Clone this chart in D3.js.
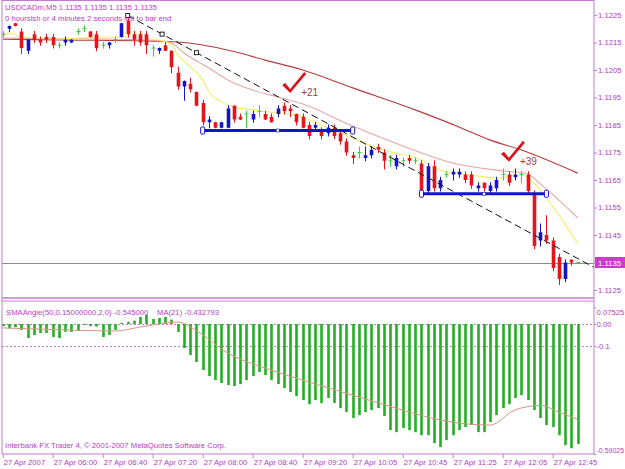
<!DOCTYPE html>
<html>
<head>
<meta charset="utf-8">
<script src="https://cdn.jsdelivr.net/npm/d3@7"></script>
<style>
body { margin: 0; background: #fff; }
svg { display: block; font-family: "Liberation Sans", Arial, sans-serif; }
</style>
</head>
<body>
<svg id="chart" width="625" height="469"></svg>
<script>
// ---- data (USDCADm, M5, 27 Apr 2007) ----
const symbolTitle = "USDCADm,M5  1.1135 1.1135 1.1135 1.1135";
const timerText = "0 hoursish or 4 minutes 2 seconds left to bar end";

const opens = [1.1218,1.1220,1.1222,1.1219,1.1212,1.1218,1.1216,1.1217,1.1217,1.1214,
  1.1215,1.1215,1.1219,1.1220,1.1219,1.1218,1.1214,1.1214,1.1216,1.1217,
  1.1223,1.1218,1.1218,1.1218,1.1213,1.1212,1.1214,1.1212,1.1204,1.1199,
  1.1200,1.1197,1.1193,1.1186,1.1186,1.1184,1.1184,1.1192,1.1188,1.1189,
  1.1187,1.1190,1.1189,1.1188,1.1189,1.1192,1.1191,1.1189,1.1188,1.1185,
  1.1184,1.1183,1.1182,1.1184,1.1182,1.1179,1.1174,1.1175,1.1173,1.1174,
  1.1177,1.1175,1.1172,1.1170,1.1172,1.1173,1.1172,1.1171,1.1161,1.1170,
  1.1162,1.1167,1.1167,1.1167,1.1167,1.1167,1.1162,1.1164,1.1161,1.1162,
  1.1167,1.1167,1.1166,1.1167,1.1167,1.1160,1.1143,1.1145,1.1143,1.1137,
  1.1129,1.1136,1.1135];
const highs = [1.1219,1.1221,1.1222,1.1220,1.1216,1.1219,1.1217,1.1218,1.1218,1.1215,
  1.1217,1.1216,1.1220,1.1221,1.1219,1.1219,1.1215,1.1215,1.1217,1.1222,
  1.1224,1.1219,1.1219,1.1219,1.1214,1.1213,1.1215,1.1212,1.1206,1.1201,
  1.1202,1.1197,1.1194,1.1188,1.1186,1.1186,1.1192,1.1192,1.1189,1.1190,
  1.1190,1.1192,1.1190,1.1189,1.1192,1.1193,1.1192,1.1189,1.1189,1.1186,
  1.1186,1.1184,1.1185,1.1185,1.1183,1.1180,1.1175,1.1177,1.1177,1.1177,
  1.1178,1.1176,1.1174,1.1174,1.1173,1.1174,1.1173,1.1172,1.1171,1.1172,
  1.1166,1.1168,1.1169,1.1169,1.1168,1.1168,1.1164,1.1164,1.1164,1.1166,
  1.1169,1.1168,1.1169,1.1168,1.1168,1.1161,1.1149,1.1152,1.1144,1.1138,
  1.1136,1.1136,1.1135];
const lows = [1.1217,1.1219,1.1221,1.1211,1.1211,1.1215,1.1214,1.1215,1.1213,1.1213,
  1.1214,1.1215,1.1218,1.1219,1.1217,1.1212,1.1213,1.1213,1.1215,1.1217,
  1.1217,1.1214,1.1214,1.1211,1.1210,1.1211,1.1212,1.1204,1.1198,1.1194,
  1.1197,1.1192,1.1185,1.1184,1.1184,1.1184,1.1184,1.1186,1.1187,1.1184,
  1.1186,1.1188,1.1187,1.1186,1.1188,1.1189,1.1188,1.1185,1.1184,1.1180,
  1.1183,1.1180,1.1181,1.1180,1.1178,1.1174,1.1171,1.1173,1.1172,1.1173,
  1.1175,1.1169,1.1170,1.1169,1.1170,1.1171,1.1171,1.1160,1.1160,1.1161,
  1.1161,1.1166,1.1165,1.1166,1.1164,1.1162,1.1161,1.1161,1.1160,1.1161,
  1.1165,1.1163,1.1165,1.1164,1.1160,1.1140,1.1141,1.1142,1.1132,1.1127,
  1.1128,1.1134,1.1135];
const closes = [1.1218,1.1221,1.1221,1.1213,1.1216,1.1216,1.1215,1.1216,1.1214,1.1214,
  1.1216,1.1216,1.1219,1.1220,1.1217,1.1213,1.1214,1.1215,1.1216,1.1222,
  1.1218,1.1216,1.1215,1.1214,1.1213,1.1213,1.1212,1.1206,1.1199,1.1201,
  1.1198,1.1192,1.1186,1.1187,1.1184,1.1186,1.1191,1.1187,1.1187,1.1189,
  1.1189,1.1190,1.1187,1.1186,1.1191,1.1190,1.1190,1.1186,1.1184,1.1181,
  1.1185,1.1181,1.1184,1.1181,1.1179,1.1175,1.1173,1.1175,1.1174,1.1176,
  1.1176,1.1172,1.1172,1.1173,1.1172,1.1172,1.1172,1.1161,1.1170,1.1162,
  1.1165,1.1167,1.1168,1.1168,1.1165,1.1163,1.1163,1.1162,1.1163,1.1165,
  1.1167,1.1164,1.1167,1.1167,1.1161,1.1141,1.1146,1.1143,1.1133,1.1129,
  1.1135,1.1135,1.1135];
const bidPrice = 1.1135;

// moving averages on the price chart, read as [bar, price]
const maFast = [[0,1.12177],[1,1.12185],[3,1.12171],[8,1.12163],[12,1.12166],[16,1.12170],
  [21,1.12170],[25,1.12159],[27,1.12141],[28,1.12105],[30,1.12062],[32,1.12014],[33,1.11971],
  [35,1.11935],[37,1.11914],[40,1.11905],[42,1.11898],[45,1.11893],[48,1.11880],[51,1.11850],
  [54,1.11821],[58,1.11783],[62,1.11753],[67,1.11723],[70,1.11686],[75,1.11668],[79,1.11657],
  [83,1.11668],[85,1.11639],[88,1.11553],[92,1.11420]];
const maMid = [[0,1.12166],[16,1.12163],[25,1.12157],[27,1.12148],[29,1.12112],[33,1.12057],
  [36,1.12014],[40,1.11977],[44,1.11952],[48,1.11926],[56,1.11846],[64,1.11774],[72,1.11712],
  [80,1.11683],[84,1.11672],[86,1.11636],[89,1.11577],[92,1.11512]];
const maSlow = [[0,1.12162],[10,1.12159],[24,1.12155],[28,1.12152],[32,1.12141],[37,1.12117],
  [42,1.12086],[48,1.12050],[56,1.11985],[66,1.11905],[73,1.11843],[78,1.11795],[83,1.11759],
  [92,1.11675]];

// objects on the chart
const trendPoints = [[20,1.12248],[31,1.12113]];
const levelLines = [[32,56,1.1183],[67,87,1.1160]];
const checkMarks = [[46,1.1197,"+21"],[81,1.1172,"+39"]];

// SMAAngle histogram, one value per bar, and its MA(21)
const angleValues = [-0.010,-0.020,-0.015,-0.027,-0.064,-0.050,-0.041,-0.041,-0.059,-0.064,
  -0.036,-0.036,-0.032,-0.005,-0.010,-0.012,-0.059,-0.050,-0.027,0.005,
  0.010,0.015,0.032,0.041,0.023,0.027,0.032,0.020,-0.036,-0.109,
  -0.141,-0.173,-0.209,-0.236,-0.255,-0.268,-0.277,-0.282,-0.273,-0.255,
  -0.236,-0.218,-0.232,-0.255,-0.273,-0.291,-0.309,-0.327,-0.345,-0.364,
  -0.345,-0.359,-0.336,-0.359,-0.382,-0.400,-0.427,-0.414,-0.400,-0.391,
  -0.382,-0.418,-0.482,-0.491,-0.473,-0.482,-0.491,-0.505,-0.505,-0.541,
  -0.559,-0.527,-0.505,-0.482,-0.468,-0.459,-0.491,-0.491,-0.445,-0.414,
  -0.382,-0.364,-0.336,-0.323,-0.345,-0.391,-0.427,-0.459,-0.468,-0.505,
  -0.550,-0.564,-0.545];
const angleMA = [[0,-0.018],[10,-0.027],[18,-0.032],[22,-0.014],[28,0.009],[31,-0.030],
  [36,-0.132],[42,-0.200],[48,-0.255],[56,-0.323],[64,-0.391],[70,-0.436],[78,-0.459],
  [82,-0.390],[86,-0.370],[89,-0.400],[92,-0.433]];

const priceTicks = [1.1125,1.1135,1.1145,1.1155,1.1165,1.1175,1.1185,1.1195,1.1205,1.1215,1.1225];
const angleTicks = [0.07525, 0, -0.1, -0.59025];
const angleTickText = ["0.07525", "0.00", "-0.1", "-0.59025"];
const timeTickBars = [0, 8, 16, 24, 32, 40, 48, 56, 64, 72, 80, 88];
const timeTickText = ["27 Apr 2007","27 Apr 06:00","27 Apr 06:40","27 Apr 07:20","27 Apr 08:00",
  "27 Apr 08:40","27 Apr 09:20","27 Apr 10:05","27 Apr 10:45","27 Apr 11:25","27 Apr 12:05","27 Apr 12:45"];

// ---- layout ----
const paneL = 2, paneR = 594;
const mainT = 0.5, mainB = 298, indT = 301, indB = 454;
const fg = "#b93cbf", frame = "#c47ad0";
const bullColor = "#1414c8", bearColor = "#e8141c", dojiColor = "#3ccc3c";
const fontSize = "7.7px";

var svg = d3.select("#chart");
svg.append("rect").attr("width", 625).attr("height", 469).attr("fill", "#fff");

var defs = svg.append("defs");
defs.append("clipPath").attr("id", "clipMain").append("rect")
  .attr("x", paneL).attr("y", mainT).attr("width", paneR - paneL).attr("height", mainB - mainT);
defs.append("clipPath").attr("id", "clipInd").append("rect")
  .attr("x", paneL).attr("y", indT).attr("width", paneR - paneL).attr("height", indB - indT);

var x = d3.scaleLinear().domain([0, 92]).range([2.7, 577.7]);
var y = d3.scaleLinear().domain([1.1125, 1.1225]).range([290, 15]);
var yi = d3.scaleLinear().domain([-0.59025, 0.07525]).range([454, 307.4]);

var bars = opens.map(function (o, i) {
  return { i: i, o: o, h: highs[i], l: lows[i], c: closes[i] };
});
function barColor(d) {
  if (d.c > d.o) return bullColor;
  if (d.c < d.o) return bearColor;
  return dojiColor;
}

// ---- main pane ----
var main = svg.append("g").attr("clip-path", "url(#clipMain)");

// bid line
main.append("line")
  .attr("x1", paneL).attr("x2", paneR)
  .attr("y1", Math.round(y(bidPrice)) + 0.5).attr("y2", Math.round(y(bidPrice)) + 0.5)
  .attr("stroke", "#8c8c8c").attr("stroke-width", 1);

var maLine = d3.line().x(d => x(d[0])).y(d => y(d[1])).curve(d3.curveMonotoneX);
[[maSlow, "#b83a3a"], [maMid, "#e6a6a6"], [maFast, "#f2ee6a"]].forEach(function (m) {
  main.append("path").datum(m[0]).attr("d", maLine)
    .attr("fill", "none").attr("stroke", m[1]).attr("stroke-width", 1.1);
});

var candle = main.selectAll(".bar").data(bars).join("g").attr("class", "bar");
candle.append("line")
  .attr("x1", d => Math.round(x(d.i)) + 0.5).attr("x2", d => Math.round(x(d.i)) + 0.5)
  .attr("y1", d => y(d.h) - 0.5).attr("y2", d => y(d.l) + 0.5)
  .attr("stroke", barColor).attr("stroke-width", 1);
candle.filter(d => d.o !== d.c).append("rect")
  .attr("x", d => Math.round(x(d.i)) - 1.3)
  .attr("width", 3.6)
  .attr("y", d => y(Math.max(d.o, d.c)))
  .attr("height", d => Math.max(1.5, Math.abs(y(d.o) - y(d.c))))
  .attr("fill", barColor);
candle.filter(d => d.o === d.c).append("line")
  .attr("x1", d => Math.round(x(d.i)) - 1.5).attr("x2", d => Math.round(x(d.i)) + 2.5)
  .attr("y1", d => y(d.o)).attr("y2", d => y(d.o))
  .attr("stroke", dojiColor).attr("stroke-width", 1.2);

// dashed trend line (ray) with its three markers
var tSlope = (trendPoints[1][1] - trendPoints[0][1]) / (trendPoints[1][0] - trendPoints[0][0]);
var tEnd = x.invert(paneR);
main.append("line")
  .attr("x1", x(trendPoints[0][0])).attr("y1", y(trendPoints[0][1]))
  .attr("x2", x(tEnd)).attr("y2", y(trendPoints[0][1] + tSlope * (tEnd - trendPoints[0][0])))
  .attr("stroke", "#111").attr("stroke-width", 1).attr("stroke-dasharray", "7,4");
var tMid = [(trendPoints[0][0] + trendPoints[1][0]) / 2, (trendPoints[0][1] + trendPoints[1][1]) / 2];
main.selectAll(".tmark").data([trendPoints[0], tMid, trendPoints[1]]).join("rect")
  .attr("class", "tmark")
  .attr("x", d => x(d[0]) - 2).attr("y", d => y(d[1]) - 2)
  .attr("width", 4).attr("height", 4)
  .attr("fill", "#fff").attr("stroke", "#111").attr("stroke-width", 0.9);

// thick blue horizontal lines
levelLines.forEach(function (ln) {
  var yy = y(ln[2]);
  main.append("line").attr("x1", x(ln[0])).attr("x2", x(ln[1]))
    .attr("y1", yy).attr("y2", yy)
    .attr("stroke", bullColor).attr("stroke-width", 3);
  [ln[0], ln[1]].forEach(function (b) {
    main.append("rect").attr("x", x(b) - 2).attr("y", yy - 3.5).attr("width", 4).attr("height", 7)
      .attr("rx", 1).attr("fill", "#fff").attr("stroke", bullColor).attr("stroke-width", 1);
  });
  main.append("rect").attr("x", x((ln[0] + ln[1]) / 2) - 1.5).attr("y", yy - 1.5)
    .attr("width", 3).attr("height", 3).attr("fill", "#fff").attr("stroke", bullColor).attr("stroke-width", 0.6);
});

// red check marks with pip counts
checkMarks.forEach(function (cm) {
  var cx = x(cm[0]), cy = y(cm[1]);
  main.append("path")
    .attr("d", "M-8,-7 L-5,-9 L0,-3 L14,-20 L16,-18 L0,1 Z")
    .attr("transform", "translate(" + cx + "," + cy + ")")
    .attr("fill", "#d8141c");
  main.append("text").attr("x", cx + 11).attr("y", cy + 4)
    .attr("font-size", "10px").attr("fill", "#9c3c3c").text(cm[2]);
});

// ---- indicator pane ----
var ind = svg.append("g").attr("clip-path", "url(#clipInd)");
[0, -0.1].forEach(function (lv) {
  ind.append("line").attr("x1", paneL).attr("x2", paneR)
    .attr("y1", Math.round(yi(lv)) + 0.5).attr("y2", Math.round(yi(lv)) + 0.5)
    .attr("stroke", frame).attr("stroke-width", 1).attr("stroke-dasharray", "2,2");
});
ind.selectAll(".hist").data(angleValues).join("line")
  .attr("class", "hist")
  .attr("x1", (d, i) => Math.round(x(i)) + 0.5).attr("x2", (d, i) => Math.round(x(i)) + 0.5)
  .attr("y1", yi(0)).attr("y2", d => yi(d))
  .attr("stroke", "#22b022").attr("stroke-width", 2.6);
ind.append("path").datum(angleMA)
  .attr("d", d3.line().x(d => x(d[0])).y(d => yi(d[1])).curve(d3.curveMonotoneX))
  .attr("fill", "none").attr("stroke", "#d49484").attr("stroke-width", 1);

// ---- frame ----
var fr = svg.append("g").attr("stroke", frame).attr("fill", "none");
fr.append("line").attr("x1", paneL).attr("x2", paneL).attr("y1", 0).attr("y2", indB);
fr.append("line").attr("x1", paneR).attr("x2", paneR).attr("y1", 0).attr("y2", indB);
fr.append("line").attr("x1", paneL).attr("x2", paneR).attr("y1", mainT).attr("y2", mainT);
fr.append("line").attr("x1", paneL).attr("x2", paneR).attr("y1", mainB).attr("y2", mainB).attr("stroke-width", 1.6);
fr.append("line").attr("x1", paneL).attr("x2", paneR).attr("y1", indT).attr("y2", indT);
fr.append("line").attr("x1", paneL).attr("x2", paneR).attr("y1", indB).attr("y2", indB);

// ---- axes ----
function styleAxis(g) {
  g.select(".domain").remove();
  g.selectAll(".tick line").attr("stroke", frame);
  g.selectAll(".tick text").attr("fill", fg).attr("font-size", fontSize)
    .attr("font-family", "Liberation Sans, Arial, sans-serif");
}

svg.append("g").attr("transform", "translate(" + paneR + ",0)")
  .call(d3.axisRight(y).tickValues(priceTicks).tickSize(3).tickPadding(1).tickFormat(d3.format(".4f")))
  .call(styleAxis);

// current price label
svg.append("rect").attr("x", paneR + 1).attr("y", y(bidPrice) - 5.5)
  .attr("width", 31).attr("height", 11).attr("fill", "#cc3ccc");
svg.append("text").attr("x", paneR + 4).attr("y", y(bidPrice) + 3)
  .attr("font-size", fontSize).attr("fill", "#fff").text(d3.format(".4f")(bidPrice));

var indAxis = svg.append("g").attr("transform", "translate(" + paneR + ",0)")
  .call(d3.axisRight(yi).tickValues(angleTicks).tickSize(2).tickPadding(0.5)
    .tickFormat((d, k) => angleTickText[k]))
  .call(styleAxis);
indAxis.selectAll(".tick text")
  .attr("dy", (d, k) => k === 0 ? "0.9em" : (k === 3 ? "-0.25em" : "0.32em"))
  .attr("font-size", (d, k) => k === 3 ? "7px" : fontSize);

var tAxis = svg.append("g").attr("transform", "translate(0," + indB + ")")
  .call(d3.axisBottom(x).tickValues(timeTickBars).tickSize(4).tickPadding(2)
    .tickFormat((d, k) => timeTickText[k]))
  .call(styleAxis);
tAxis.selectAll(".tick text").attr("text-anchor", "start").attr("x", 0.5);

// ---- captions ----
var cap = svg.append("g").attr("fill", fg).attr("font-size", fontSize);
cap.append("text").attr("x", 5).attr("y", 10).text(symbolTitle);
cap.append("text").attr("x", 5).attr("y", 21).text(timerText);
cap.append("text").attr("x", 6).attr("y", 315).text("SMAAngle(50,0.15000000,2,0) " + angleValues[angleValues.length - 1].toFixed(6));
cap.append("text").attr("x", 157).attr("y", 315).text("MA(21) -0.432793");
cap.append("text").attr("x", 5).attr("y", 448).text("Interbank FX Trader 4, \u00a9 2001-2007 MetaQuotes Software Corp.");
</script>
</body>
</html>
